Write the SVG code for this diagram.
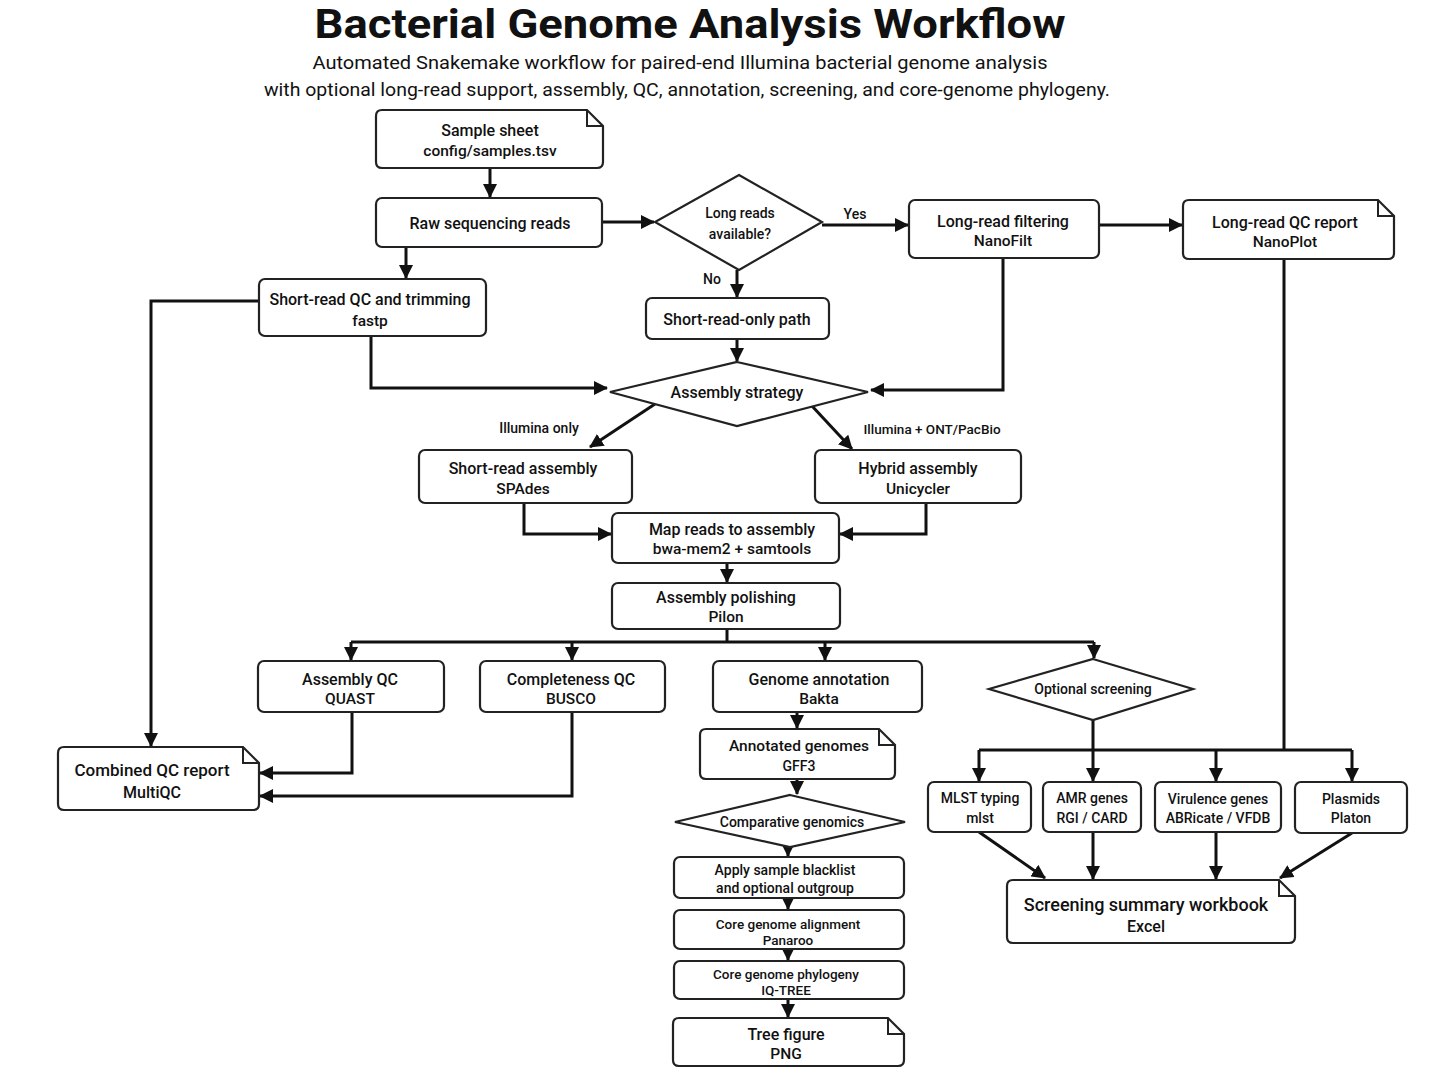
<svg xmlns="http://www.w3.org/2000/svg" width="1448" height="1086" viewBox="0 0 1448 1086">
<defs>
<marker id="ah" markerUnits="userSpaceOnUse" markerWidth="14" markerHeight="14" refX="13" refY="7" orient="auto"><path d="M0,0 L14,7 L0,14 z" fill="#111"/></marker>
<style>
.bx{fill:#fff;stroke:#222;stroke-width:2.2}
.fold{fill:none;stroke:#222;stroke-width:2}
.c{fill:none;stroke:#111;stroke-width:3;marker-end:url(#ah)}
.l{fill:none;stroke:#111;stroke-width:3}
text{font-family:Roboto,"Liberation Sans",sans-serif;fill:#111;text-anchor:middle;dominant-baseline:central;font-weight:500}
.t1{font-size:16px}
.t2{font-size:15.5px}
.s{font-size:14px}
.xs{font-size:13.5px}
</style>
</defs>
<rect width="1448" height="1086" fill="#fff"/>
<text x="690" y="24" style="font-size:40px;font-weight:700" textLength="751" lengthAdjust="spacingAndGlyphs">Bacterial Genome Analysis Workflow</text>
<text x="680" y="62" style="font-size:18px;font-weight:400" textLength="735" lengthAdjust="spacingAndGlyphs">Automated Snakemake workflow for paired-end Illumina bacterial genome analysis</text>
<text x="687" y="89" style="font-size:18px;font-weight:400" textLength="846" lengthAdjust="spacingAndGlyphs">with optional long-read support, assembly, QC, annotation, screening, and core-genome phylogeny.</text>

<g id="connectors">
<path class="c" d="M490,168 V197"/>
<path class="c" d="M602,222 H654"/>
<path class="c" d="M822,225 H908"/>
<path class="c" d="M1099,225 H1182"/>
<path class="c" d="M737,270 V297"/>
<path class="c" d="M406,247 V278"/>
<path class="c" d="M371,336 V388 H607"/>
<path class="c" d="M1003,258 V390 H871"/>
<path class="c" d="M737,339 V361"/>
<path class="c" d="M655,404 L590,447"/>
<path class="c" d="M812,406 L852,449"/>
<path class="c" d="M524,503 V534 H611"/>
<path class="c" d="M926,503 V534 H840"/>
<path class="c" d="M727,563 V582"/>
<path class="l" d="M727,629 V642 M351,642 H1094"/>
<path class="c" d="M351,642 V660"/>
<path class="c" d="M572,642 V660"/>
<path class="c" d="M825,642 V660"/>
<path class="c" d="M1094,642 V658"/>
<path class="c" d="M259,301 H151 V746"/>
<path class="c" d="M352,712 V773 H260"/>
<path class="c" d="M572,712 V796 H260"/>
<path class="c" d="M797,712 V728"/>
<path class="c" d="M797,779 V794"/>
<path class="c" d="M788,847 V856"/>
<path class="c" d="M788,898 V909"/>
<path class="c" d="M788,949 V960"/>
<path class="c" d="M788,999 V1017"/>
<path class="l" d="M1093,720 V750 M1284,259 V750 M979,750 H1352"/>
<path class="c" d="M979,750 V781"/>
<path class="c" d="M1093,750 V781"/>
<path class="c" d="M1216,750 V781"/>
<path class="c" d="M1352,750 V781"/>
<path class="c" d="M979,832 L1045,878"/>
<path class="c" d="M1093,832 V879"/>
<path class="c" d="M1216,832 V879"/>
<path class="c" d="M1352,833 L1280,878"/>
<text x="855" y="214" class="s">Yes</text>
<text x="712" y="279" class="s">No</text>
<text x="539" y="428" class="s">Illumina only</text>
<text x="932" y="429" class="xs">Illumina + ONT/PacBio</text>
</g>

<g id="sample_sheet">
<path class="bx" d="M382,110 H587 L603,126 V162 Q603,168 597,168 H382 Q376,168 376,162 V116 Q376,110 382,110 Z"/>
<path class="fold" d="M587,110 V126 H603"/>
<text x="490" y="130" class="t1">Sample sheet</text>
<text x="490" y="151" class="t2">config/samples.tsv</text>
</g>
<g id="raw_reads">
<rect class="bx" x="376" y="198" width="226" height="49" rx="6"/>
<text x="490" y="223" class="t1">Raw sequencing reads</text>
</g>
<g id="long_reads_decision">
<polygon class="bx" points="739,175 822,222 739,270 655,222"/>
<text x="740" y="213" class="s">Long reads</text>
<text x="740" y="234" class="s">available?</text>
</g>
<g id="long_read_filtering">
<rect class="bx" x="909" y="200" width="190" height="58" rx="6"/>
<text x="1003" y="221" class="t1">Long-read filtering</text>
<text x="1003" y="241" class="t2">NanoFilt</text>
</g>
<g id="long_read_qc">
<path class="bx" d="M1189,200 H1378 L1394,216 V253 Q1394,259 1388,259 H1189 Q1183,259 1183,253 V206 Q1183,200 1189,200 Z"/>
<path class="fold" d="M1378,200 V216 H1394"/>
<text x="1285" y="222" class="t1">Long-read QC report</text>
<text x="1285" y="242" class="t2">NanoPlot</text>
</g>
<g id="short_read_qc">
<rect class="bx" x="259" y="279" width="227" height="57" rx="6"/>
<text x="370" y="299" class="t1">Short-read QC and trimming</text>
<text x="370" y="321" class="t2">fastp</text>
</g>
<g id="short_read_only">
<rect class="bx" x="646" y="298" width="183" height="41" rx="6"/>
<text x="737" y="319" class="t1">Short-read-only path</text>
</g>
<g id="assembly_strategy">
<polygon class="bx" points="737,362 868,392 737,426 610,392"/>
<text x="737" y="392" class="t1">Assembly strategy</text>
</g>
<g id="short_read_assembly">
<rect class="bx" x="419" y="450" width="213" height="53" rx="6"/>
<text x="523" y="468" class="t1">Short-read assembly</text>
<text x="523" y="489" class="t2">SPAdes</text>
</g>
<g id="hybrid_assembly">
<rect class="bx" x="815" y="450" width="206" height="53" rx="6"/>
<text x="918" y="468" class="t1">Hybrid assembly</text>
<text x="918" y="489" class="t2">Unicycler</text>
</g>
<g id="map_reads">
<rect class="bx" x="612" y="513" width="227" height="50" rx="6"/>
<text x="732" y="529" class="t1">Map reads to assembly</text>
<text x="732" y="549" class="t2">bwa-mem2 + samtools</text>
</g>
<g id="polishing">
<rect class="bx" x="612" y="583" width="228" height="46" rx="6"/>
<text x="726" y="597" class="t1">Assembly polishing</text>
<text x="726" y="617" class="t2">Pilon</text>
</g>
<g id="assembly_qc">
<rect class="bx" x="258" y="661" width="186" height="51" rx="6"/>
<text x="350" y="679" class="t1">Assembly QC</text>
<text x="350" y="699" class="t2">QUAST</text>
</g>
<g id="completeness_qc">
<rect class="bx" x="480" y="661" width="185" height="51" rx="6"/>
<text x="571" y="679" class="t1">Completeness QC</text>
<text x="571" y="699" class="t2">BUSCO</text>
</g>
<g id="genome_annotation">
<rect class="bx" x="713" y="661" width="209" height="51" rx="6"/>
<text x="819" y="679" class="t1">Genome annotation</text>
<text x="819" y="699" class="t2">Bakta</text>
</g>
<g id="optional_screening">
<polygon class="bx" points="1093,659 1193,689 1093,720 989,689"/>
<text x="1093" y="689" class="s">Optional screening</text>
</g>
<g id="multiqc">
<path class="bx" d="M64,747 H243 L259,763 V804 Q259,810 253,810 H64 Q58,810 58,804 V753 Q58,747 64,747 Z"/>
<path class="fold" d="M243,747 V763 H259"/>
<text x="152" y="770" style="font-size:17px">Combined QC report</text>
<text x="152" y="792" class="t1">MultiQC</text>
</g>
<g id="annotated_genomes">
<path class="bx" d="M706,729 H879 L895,745 V773 Q895,779 889,779 H706 Q700,779 700,773 V735 Q700,729 706,729 Z"/>
<path class="fold" d="M879,729 V745 H895"/>
<text x="799" y="746" class="t2">Annotated genomes</text>
<text x="799" y="766" class="s">GFF3</text>
</g>
<g id="comparative_genomics">
<polygon class="bx" points="790,795 905,822 790,847 675,822"/>
<text x="792" y="822" class="s">Comparative genomics</text>
</g>
<g id="blacklist">
<rect class="bx" x="674" y="857" width="230" height="41" rx="6"/>
<text x="785" y="870" class="s">Apply sample blacklist</text>
<text x="785" y="888" class="s">and optional outgroup</text>
</g>
<g id="core_alignment">
<rect class="bx" x="674" y="910" width="230" height="39" rx="6"/>
<text x="788" y="924" class="xs">Core genome alignment</text>
<text x="788" y="940" class="xs">Panaroo</text>
</g>
<g id="core_phylogeny">
<rect class="bx" x="674" y="961" width="230" height="38" rx="6"/>
<text x="786" y="974" class="xs">Core genome phylogeny</text>
<text x="786" y="990" class="xs">IQ-TREE</text>
</g>
<g id="tree_figure">
<path class="bx" d="M679,1018 H888 L904,1034 V1060 Q904,1066 898,1066 H679 Q673,1066 673,1060 V1024 Q673,1018 679,1018 Z"/>
<path class="fold" d="M888,1018 V1034 H904"/>
<text x="786" y="1034" class="t1">Tree figure</text>
<text x="786" y="1054" class="t2">PNG</text>
</g>
<g id="mlst">
<rect class="bx" x="928" y="782" width="103" height="50" rx="6"/>
<text x="980" y="798" class="s">MLST typing</text>
<text x="980" y="818" class="s">mlst</text>
</g>
<g id="amr">
<rect class="bx" x="1043" y="782" width="98" height="50" rx="6"/>
<text x="1092" y="798" class="s">AMR genes</text>
<text x="1092" y="818" class="s">RGI / CARD</text>
</g>
<g id="virulence">
<rect class="bx" x="1155" y="782" width="126" height="50" rx="6"/>
<text x="1218" y="799" class="s">Virulence genes</text>
<text x="1218" y="818" class="s">ABRicate / VFDB</text>
</g>
<g id="plasmids">
<rect class="bx" x="1295" y="782" width="112" height="51" rx="6"/>
<text x="1351" y="799" class="s">Plasmids</text>
<text x="1351" y="818" class="s">Platon</text>
</g>
<g id="screening_summary">
<path class="bx" d="M1013,880 H1279 L1295,896 V937 Q1295,943 1289,943 H1013 Q1007,943 1007,937 V886 Q1007,880 1013,880 Z"/>
<path class="fold" d="M1279,880 V896 H1295"/>
<text x="1146" y="904" style="font-size:18px">Screening summary workbook</text>
<text x="1146" y="926" class="t1">Excel</text>
</g>
</svg>
